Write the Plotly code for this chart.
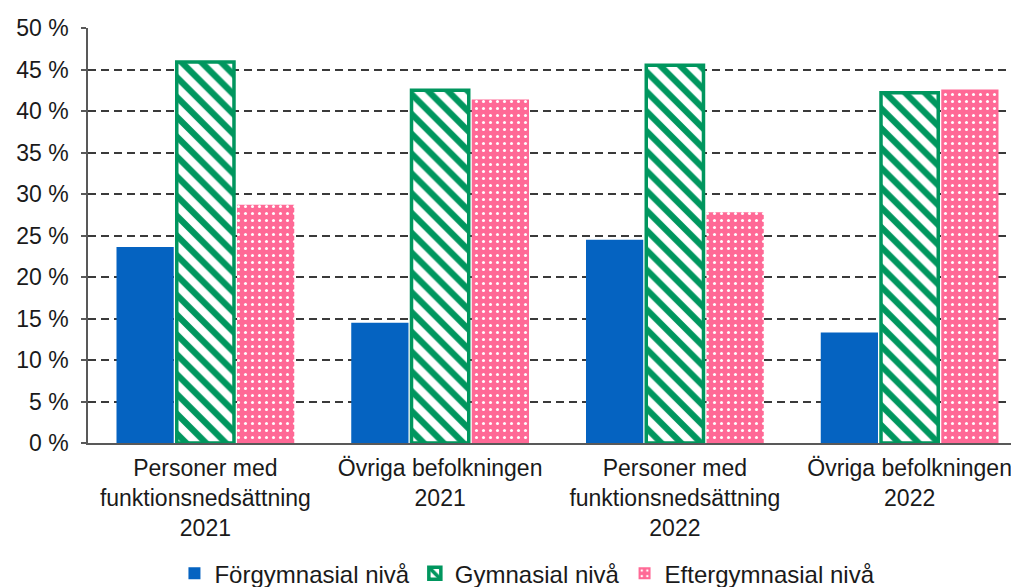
import plotly.graph_objects as go

categories = [
    "Personer med<br>funktionsnedsättning<br>2021",
    "Övriga befolkningen<br>2021",
    "Personer med<br>funktionsnedsättning<br>2022",
    "Övriga befolkningen<br>2022",
]
forgymnasial = [23.6, 14.5, 24.5, 13.3]
gymnasial = [45.9, 42.5, 45.5, 42.2]
eftergymnasial = [28.7, 41.4, 27.8, 42.6]
y_ticks = [0, 5, 10, 15, 20, 25, 30, 35, 40, 45, 50]
y_labels = [f"{v} %" for v in y_ticks]

BLUE = "#0563c1"
GREEN = "#00965e"
PINK = "#ff6996"

fig = go.Figure()
fig.add_bar(
    x=categories, y=forgymnasial, name="Förgymnasial nivå",
    marker=dict(color=BLUE, line=dict(width=0)),
)
fig.add_bar(
    x=categories, y=gymnasial, name="Gymnasial nivå",
    marker=dict(
        color="white",
        line=dict(color=GREEN, width=3.5),
        pattern=dict(shape="\\", fgcolor=GREEN, fgopacity=1, fillmode="overlay",
                     size=14, solidity=0.45),
    ),
)
fig.add_bar(
    x=categories, y=eftergymnasial, name="Eftergymnasial nivå",
    marker=dict(
        color=PINK,
        line=dict(width=0),
        pattern=dict(shape=".", fgcolor="white", fgopacity=1, fillmode="overlay",
                     size=7, solidity=0.15),
    ),
)

fig.update_layout(
    width=1019, height=587,
    margin=dict(l=80, r=0, t=20, b=152, autoexpand=False),
    plot_bgcolor="white", paper_bgcolor="white",
    font=dict(family="Liberation Sans, Arial", size=23, color="#1a1a1a"),
    barmode="group", bargap=0.23, bargroupgap=0.05,
    legend=dict(
        orientation="h", x=0.468, xanchor="center", y=-0.315, yanchor="middle",
        font=dict(size=24), traceorder="normal",
    ),
    showlegend=True,
)
fig.update_yaxes(
    range=[0, 50], tickvals=y_ticks, ticktext=y_labels, automargin=False,
    showgrid=True, gridcolor="#3a3a3a", gridwidth=1.5, griddash="8px,5px",
    showline=True, linecolor="#595959", linewidth=1.5,
    ticks="outside", ticklen=5, tickcolor="#595959", tickwidth=1.5,
    ticklabelstandoff=8, zeroline=False, fixedrange=True,
)
fig.update_xaxes(
    showline=True, linecolor="#595959", linewidth=1.5, automargin=False,
    showgrid=False, ticks="", ticklabelstandoff=4, fixedrange=True,
)

fig.write_html("out.html")
